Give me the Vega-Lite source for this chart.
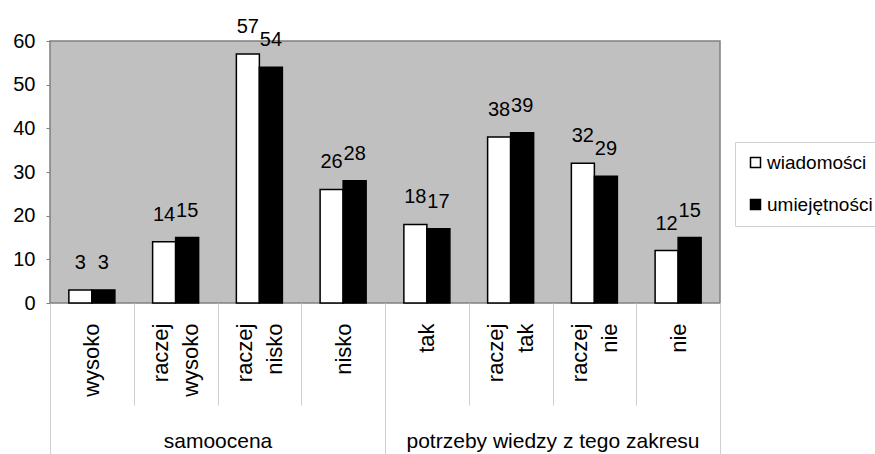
{
  "$schema": "https://vega.github.io/schema/vega-lite/v6.json",
  "width": 670,
  "height": 262,
  "autosize": {"type": "none"},
  "padding": {"left": 50, "top": 41, "right": 155, "bottom": 151},
  "background": "white",
  "config": {
    "view": {"fill": "#c0c0c0", "stroke": "#808080", "strokeWidth": 1.5},
    "font": "Liberation Sans"
  },
  "data": {
    "values": [
      {"grupa": "samoocena", "kategoria": "wysoko", "seria": "wiadomości", "wartosc": 3},
      {"grupa": "samoocena", "kategoria": "wysoko", "seria": "umiejętności", "wartosc": 3},
      {"grupa": "samoocena", "kategoria": "raczej wysoko", "seria": "wiadomości", "wartosc": 14},
      {"grupa": "samoocena", "kategoria": "raczej wysoko", "seria": "umiejętności", "wartosc": 15},
      {"grupa": "samoocena", "kategoria": "raczej nisko", "seria": "wiadomości", "wartosc": 57},
      {"grupa": "samoocena", "kategoria": "raczej nisko", "seria": "umiejętności", "wartosc": 54},
      {"grupa": "samoocena", "kategoria": "nisko", "seria": "wiadomości", "wartosc": 26},
      {"grupa": "samoocena", "kategoria": "nisko", "seria": "umiejętności", "wartosc": 28},
      {"grupa": "potrzeby wiedzy z tego zakresu", "kategoria": "tak", "seria": "wiadomości", "wartosc": 18},
      {"grupa": "potrzeby wiedzy z tego zakresu", "kategoria": "tak", "seria": "umiejętności", "wartosc": 17},
      {"grupa": "potrzeby wiedzy z tego zakresu", "kategoria": "raczej tak", "seria": "wiadomości", "wartosc": 38},
      {"grupa": "potrzeby wiedzy z tego zakresu", "kategoria": "raczej tak", "seria": "umiejętności", "wartosc": 39},
      {"grupa": "potrzeby wiedzy z tego zakresu", "kategoria": "raczej nie", "seria": "wiadomości", "wartosc": 32},
      {"grupa": "potrzeby wiedzy z tego zakresu", "kategoria": "raczej nie", "seria": "umiejętności", "wartosc": 29},
      {"grupa": "potrzeby wiedzy z tego zakresu", "kategoria": "nie", "seria": "wiadomości", "wartosc": 12},
      {"grupa": "potrzeby wiedzy z tego zakresu", "kategoria": "nie", "seria": "umiejętności", "wartosc": 15}
    ]
  },
  "layer": [
    {
      "encoding": {
        "x": {
          "field": "kategoria", "type": "nominal", "sort": null,
          "scale": {"paddingInner": 0, "paddingOuter": 0},
          "axis": {
            "title": null, "orient": "bottom", "domain": false,
            "labelAngle": -90, "labelAlign": "right", "labelBaseline": "middle",
            "labelFontSize": 22, "labelColor": "black", "labelFont": "Liberation Sans",
            "labelExpr": "split(datum.label, ' ')", "labelLineHeight": 30,
            "labelOffset": {"condition": {"test": "indexof(datum.label, ' ') >= 0", "value": -15}, "value": 0},
            "labelOverlap": false, "labelBound": false,
            "tickBand": "extent", "tickSize": 102, "tickColor": "#cfcfcf", "tickWidth": 1,
            "labelPadding": -82
          }
        },
        "xOffset": {
          "field": "seria", "type": "nominal", "sort": ["wiadomości", "umiejętności"],
          "scale": {"paddingInner": 0, "paddingOuter": 0.82}
        },
        "y": {
          "field": "wartosc", "type": "quantitative",
          "scale": {"domain": [0, 60]},
          "axis": {
            "title": null, "values": [0, 10, 20, 30, 40, 50, 60],
            "domain": false, "grid": false, "tickSize": 4, "tickColor": "#808080",
            "labelFontSize": 20, "labelColor": "black", "labelPadding": 11,
            "labelFont": "Liberation Sans"
          }
        }
      },
      "layer": [
        {
          "mark": {"type": "bar", "stroke": "black", "strokeWidth": 1.5},
          "encoding": {
            "fill": {
              "field": "seria", "type": "nominal",
              "sort": ["wiadomości", "umiejętności"],
              "scale": {"domain": ["wiadomości", "umiejętności"], "range": ["white", "black"]},
              "legend": {
                "title": null, "orient": "none", "legendX": 685, "legendY": 101,
                "symbolType": "square", "symbolSize": 100,
                "symbolStrokeColor": "black", "symbolStrokeWidth": 1.5,
                "labelFontSize": 19, "labelColor": "black", "labelFont": "Liberation Sans",
                "rowPadding": 22, "padding": 11, "labelOffset": 2,
                "strokeColor": "#d0d0d0", "fillColor": "white"
              }
            }
          }
        },
        {
          "mark": {"type": "text", "baseline": "alphabetic", "dy": -21, "fontSize": 20, "color": "black", "font": "Liberation Sans"},
          "encoding": {"text": {"field": "wartosc", "type": "quantitative"}}
        }
      ]
    },
    {
      "mark": {"type": "point", "opacity": 0},
      "encoding": {
        "x": {
          "field": "grupa", "type": "nominal", "sort": null,
          "scale": {"paddingInner": 0, "paddingOuter": 0},
          "axis": {
            "title": null, "orient": "bottom", "domain": false,
            "labelAngle": 0, "labelFontSize": 21, "labelColor": "black",
            "labelFont": "Liberation Sans", "labelBaseline": "top", "labelLimit": 400,
            "labelOverlap": false, "labelBound": false,
            "tickBand": "extent", "tickSize": 151, "tickColor": "#cfcfcf", "tickWidth": 1,
            "labelPadding": -24
          }
        }
      }
    }
  ],
  "resolve": {"scale": {"x": "independent"}, "axis": {"x": "independent"}}
}
